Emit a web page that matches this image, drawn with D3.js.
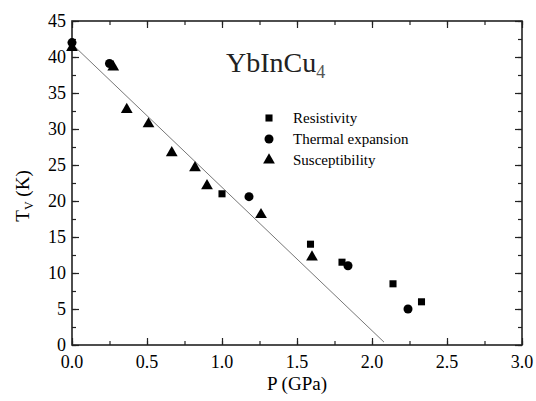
<!DOCTYPE html>
<html>
<head>
<meta charset="utf-8">
<script src="https://cdn.jsdelivr.net/npm/d3@7"></script>
<style>
  body { margin: 0; background: #fff; }
  svg text { font-family: 'Liberation Serif', serif !important; }
</style>
</head>
<body>
<svg class="chart" width="536" height="401"></svg>
<script>
// data
let resistivity = [
  { p: 1.00, t: 21.0 },
  { p: 1.59, t: 14.0 },
  { p: 1.80, t: 11.5 },
  { p: 2.14, t: 8.5 },
  { p: 2.33, t: 6.0 }
]
let thermal = [
  { p: 0.00, t: 42.0 },
  { p: 0.25, t: 39.1 },
  { p: 1.18, t: 20.6 },
  { p: 1.84, t: 11.0 },
  { p: 2.24, t: 5.0 }
]
let suscept = [
  { p: 0.00, t: 41.3 },
  { p: 0.275, t: 38.6 },
  { p: 0.365, t: 32.7 },
  { p: 0.51, t: 30.7 },
  { p: 0.665, t: 26.7 },
  { p: 0.82, t: 24.6 },
  { p: 0.90, t: 22.1 },
  { p: 1.26, t: 18.1 },
  { p: 1.60, t: 12.2 }
]
let fitLine = [{ p: 0.0, t: 41.8 }, { p: 2.08, t: 0.4 }]
let xTicks = [0, 0.5, 1.0, 1.5, 2.0, 2.5, 3.0]
let yTicks = [0, 5, 10, 15, 20, 25, 30, 35, 40, 45]
let legendNames = ['Resistivity', 'Thermal expansion', 'Susceptibility']

let margin = { top: 21, right: 14, bottom: 56, left: 72 }
let width = 536 - margin.left - margin.right
let height = 401 - margin.top - margin.bottom

let svg = d3.select('.chart').attr('font-family', 'Liberation Serif, serif')
let g = svg.append('g')
  .attr('transform', 'translate(' + margin.left + ',' + margin.top + ')')

let x = d3.scaleLinear().domain([0, 3]).range([0, width])
let y = d3.scaleLinear().domain([0, 45]).range([height, 0])

let minorX = d3.range(0, 3.001, 0.25)
let minorY = d3.range(0, 45.001, 2.5)

// ticks on all four sides, pointing inward
function ticksOn(axisFn, scale, vals, size, tr) {
  let a = g.append('g').attr('transform', tr)
    .call(axisFn(scale).tickValues(vals).tickSize(size).tickFormat(''))
  a.select('.domain').remove()
  a.selectAll('line').attr('stroke', '#222').attr('stroke-width', 1.2)
  return a
}
ticksOn(d3.axisTop, x, minorX, 4, 'translate(0,' + height + ')')
ticksOn(d3.axisBottom, x, minorX, 4, 'translate(0,0)')
ticksOn(d3.axisRight, y, minorY, 4, 'translate(0,0)')
ticksOn(d3.axisLeft, y, minorY, 4, 'translate(' + width + ',0)')
ticksOn(d3.axisTop, x, xTicks, 7, 'translate(0,' + height + ')')
ticksOn(d3.axisBottom, x, xTicks, 7, 'translate(0,0)')
ticksOn(d3.axisRight, y, yTicks, 7, 'translate(0,0)')
ticksOn(d3.axisLeft, y, yTicks, 7, 'translate(' + width + ',0)')

// frame
g.append('rect')
  .attr('width', width).attr('height', height)
  .attr('fill', 'none').attr('stroke', '#222').attr('stroke-width', 1.6)

// tick labels
g.selectAll('.xl').data(xTicks).enter().append('text')
  .attr('x', d => x(d)).attr('y', height + 23)
  .attr('text-anchor', 'middle').attr('font-size', 18)
  .text(d => d.toFixed(1))
g.selectAll('.yl').data(yTicks).enter().append('text')
  .attr('x', -6).attr('y', d => y(d) + 6)
  .attr('text-anchor', 'end').attr('font-size', 18)
  .text(d => d)

// axis titles
g.append('text')
  .attr('x', width / 2).attr('y', height + 45)
  .attr('text-anchor', 'middle').attr('font-size', 19)
  .text('P (GPa)')
let yt = svg.append('text')
  .attr('transform', 'translate(29,196) rotate(-90)')
  .attr('text-anchor', 'middle').attr('font-size', 19)
yt.append('tspan').text('T')
yt.append('tspan').attr('font-size', 12).attr('dy', 4).text('V')
yt.append('tspan').attr('dy', -4).text(' (K)')

// fit line
g.append('path')
  .datum(fitLine)
  .attr('d', d3.line().x(d => x(d.p)).y(d => y(d.t)))
  .attr('fill', 'none').attr('stroke', '#777').attr('stroke-width', 1)

// markers
let sq = d3.symbol().type(d3.symbolSquare).size(50)
let ci = d3.symbol().type(d3.symbolCircle).size(64)
let tr = d3.symbol().type(d3.symbolTriangle).size(60)

g.selectAll('.sus').data(suscept).enter().append('path')
  .attr('d', tr).attr('transform', d => 'translate(' + x(d.p) + ',' + y(d.t) + ')')
g.selectAll('.the').data(thermal).enter().append('path')
  .attr('d', ci).attr('transform', d => 'translate(' + x(d.p) + ',' + y(d.t) + ')')
g.selectAll('.res').data(resistivity).enter().append('path')
  .attr('d', sq).attr('transform', d => 'translate(' + x(d.p) + ',' + y(d.t) + ')')

// compound name
let title = svg.append('text')
  .attr('x', 226).attr('y', 72).attr('font-size', 28).attr('fill', '#222')
title.append('tspan').text('YbInCu')
title.append('tspan').attr('font-size', 18).attr('dy', 6).attr('fill', '#555').text('4')

// legend
let symbols = [sq, ci, tr]
let legend = svg.append('g').attr('transform', 'translate(269,118)')
legendNames.forEach(function (name, i) {
  legend.append('path').attr('d', symbols[i]).attr('transform', 'translate(0,' + (i * 21) + ')')
  legend.append('text')
    .attr('x', 24).attr('y', i * 21 + 5).attr('font-size', 15)
    .text(name)
})
</script>
</body>
</html>
